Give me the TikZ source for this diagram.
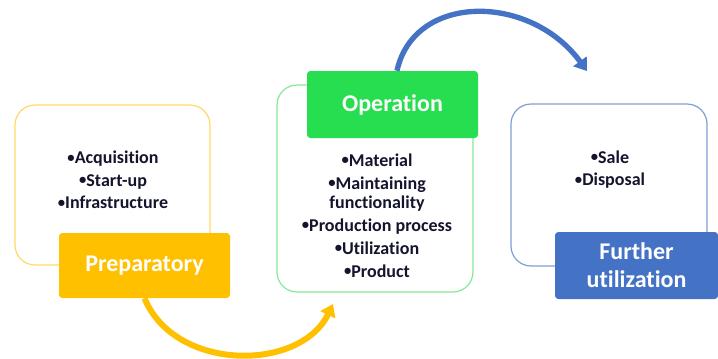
\documentclass[tikz,border=0pt]{standalone}
\usepackage{fontspec}
\setmainfont{Carlito}[Ligatures={NoCommon}]
\usetikzlibrary{arrows.meta}
\definecolor{prepC}{HTML}{FFC000}
\definecolor{prepL}{HTML}{FFD966}
\definecolor{opC}{HTML}{26DE50}
\definecolor{opL}{HTML}{86E89A}
\definecolor{furC}{HTML}{4472C4}
\definecolor{furL}{HTML}{7F9ED6}
\definecolor{txt}{HTML}{14142E}
\newcommand\bul{\raisebox{1pt}{\fontsize{11}{10}\selectfont•}}
\tikzset{
  outerbox/.style={draw=#1, line width=0.9pt, rounded corners=15pt, fill=white, inner sep=0pt},
  labelbox/.style={fill=#1, rounded corners=2.5pt, inner sep=0pt, text=white, align=center,
    font=\fontsize{18}{21}\selectfont\bfseries},
  itemtext/.style={text=txt, align=center, inner sep=0pt, font=\fontsize{13.5}{14.25}\selectfont\bfseries},
  flow/.style={line width=#1, -{Triangle[length=9pt,width=12pt]}}
}
\begin{document}
\begin{tikzpicture}[x=0.75pt,y=-0.75pt]
\useasboundingbox (0,0) rectangle (718,358);
% Preparatory
\node[outerbox=prepL, minimum width=195*0.75pt, minimum height=160*0.75pt] (prepbox) at (112.5,185) {};
\node[itemtext] (preptext) at (113,180) {\bul Acquisition\\[2.5pt]\bul Start-up\\[2.5pt]\bul Infrastructure};
\node[labelbox=prepC, minimum width=171*0.75pt, minimum height=65*0.75pt] (preplabel) at (144.5,265.5) {Preparatory};
% Operation
\node[outerbox=opL, minimum width=196*0.75pt, minimum height=207*0.75pt] (opbox) at (375,188.5) {};
\node[labelbox=opC, minimum width=171*0.75pt, minimum height=67*0.75pt] (oplabel) at (392.5,104.5) {Operation};
\node[itemtext] (optext) at (377,215.5) {\bul Material\\[3pt]\bul Maintaining\\functionality\\[3pt]\bul Production process\\[3pt]\bul Utilization\\[3pt]\bul Product};
% Further utilization
\node[outerbox=furL, minimum width=196*0.75pt, minimum height=162*0.75pt] (furbox) at (609,185) {};
\node[itemtext] (furtext) at (610,169.5) {\bul Sale\\[2.5pt]\bul Disposal};
\node[labelbox=furC, minimum width=163*0.75pt, minimum height=67*0.75pt] (furlabel) at (636.5,265.5) {Further\\utilization};
% arrows
\coordinate (blueend) at (587,71);
\coordinate (yellowend) at (333,304);
\draw[flow=4pt, draw=furC] ([xshift=4.5*0.75pt]oplabel.north) .. controls (414,-7) and (530,-7) .. (blueend);
\draw[flow=4.5pt, draw=prepC] (preplabel.south) .. controls (175,372) and (300,372) .. (yellowend);
\end{tikzpicture}
\end{document}
